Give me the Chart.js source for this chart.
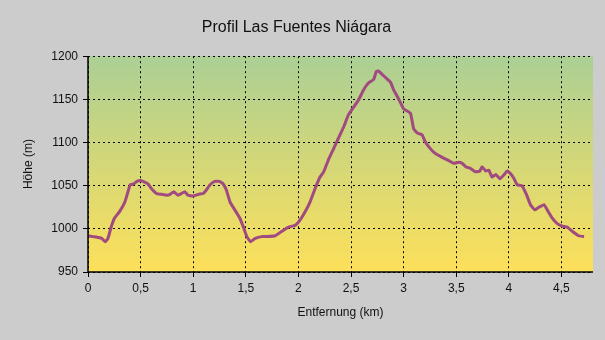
<!DOCTYPE html>
<html lang="de">
<head>
<meta charset="utf-8">
<title>Profil Las Fuentes Niágara</title>
<script src="https://cdn.jsdelivr.net/npm/chart.js@4/dist/chart.umd.min.js"></script>
<style>
    html, body { margin: 0; padding: 0; background: #cccccc; }
    canvas { display: block; }
</style>
</head>
<body>
<canvas id="profileChart" width="605" height="340"></canvas>
<script>
// Daten des Höhenprofils (Entfernung in km, Höhe in m)
const distances = [
    0, 0.05, 0.1, 0.13, 0.165, 0.19, 0.22, 0.25, 0.3, 0.35,
    0.38, 0.4, 0.435, 0.465, 0.5, 0.54, 0.57, 0.6, 0.65, 0.7,
    0.75, 0.78, 0.815, 0.855, 0.89, 0.92, 0.95, 1.0, 1.05, 1.095,
    1.125, 1.16, 1.205, 1.25, 1.285, 1.315, 1.35, 1.395, 1.445, 1.48,
    1.51, 1.545, 1.59, 1.65, 1.7, 1.78, 1.84, 1.905, 1.97, 2.015,
    2.065, 2.11, 2.16, 2.205, 2.24, 2.285, 2.335, 2.38, 2.43, 2.475,
    2.525, 2.57, 2.62, 2.665, 2.715, 2.74, 2.76, 2.795, 2.84, 2.875,
    2.905, 2.95, 3.0, 3.065, 3.095, 3.13, 3.175, 3.205, 3.24, 3.285,
    3.335, 3.38, 3.43, 3.475, 3.525, 3.555, 3.59, 3.635, 3.685, 3.725,
    3.745, 3.78, 3.81, 3.84, 3.875, 3.915, 3.95, 3.985, 4.015, 4.05,
    4.08, 4.125, 4.17, 4.205, 4.245, 4.285, 4.335, 4.365, 4.415, 4.46,
    4.51, 4.555, 4.605, 4.665, 4.715
];
const elevations = [
    992, 991, 990, 989, 985, 989, 1002, 1012, 1020, 1031,
    1043, 1051, 1052, 1055, 1056, 1054, 1052, 1047, 1041, 1040,
    1039, 1040, 1043, 1039, 1041, 1043, 1039, 1038, 1040, 1041,
    1045, 1051, 1055, 1055, 1052, 1045, 1031, 1022, 1012, 1001,
    991, 985, 989, 991, 991, 992, 997, 1002, 1004, 1010,
    1020, 1031, 1047, 1060, 1066, 1080, 1093, 1105, 1118, 1132,
    1141, 1149, 1161, 1169, 1173, 1182, 1183, 1179, 1174, 1170,
    1161, 1151, 1139, 1134, 1116, 1111, 1109, 1101, 1095, 1089,
    1085, 1082, 1079, 1076, 1077, 1076, 1072, 1070, 1066, 1067,
    1072, 1067, 1068, 1060, 1063, 1058, 1062, 1067, 1064, 1058,
    1051, 1050, 1039, 1028, 1022, 1025, 1028, 1022, 1012, 1006,
    1003, 1002, 997, 992, 991
];
const xMin = 0, xMax = 4.8, xStep = 0.5;
const yMin = 950, yMax = 1200, yStep = 50;

const textColor = '#111111';
const fontFamily = '"Liberation Sans", Arial, sans-serif';

// Farbverlauf im Diagrammbereich (grün oben, gelb unten)
const plotBackground = {
    id: 'plotBackground',
    beforeDraw(chart) {
        const { ctx, chartArea: a } = chart;
        const g = ctx.createLinearGradient(0, a.top, 0, a.bottom);
        g.addColorStop(0, '#abcf95');
        g.addColorStop(1, '#fde05a');
        ctx.save();
        ctx.fillStyle = g;
        ctx.fillRect(a.left, a.top, a.right - a.left, a.bottom - a.top);
        ctx.restore();
    }
};

// durchgezogene Achsenlinien links und unten
const solidAxes = {
    id: 'solidAxes',
    afterDraw(chart) {
        const { ctx, chartArea: a } = chart;
        ctx.save();
        ctx.setLineDash([]);
        ctx.strokeStyle = '#000000';
        ctx.lineWidth = 1.5;
        ctx.beginPath();
        ctx.moveTo(a.left, a.top);
        ctx.lineTo(a.left, a.bottom);
        ctx.lineTo(a.right, a.bottom);
        ctx.stroke();
        ctx.restore();
    }
};

const points = distances.map((d, i) => ({ x: d, y: elevations[i] }));

// gemeinsame Achsen-Optionen
const axisBorder = { display: false, dash: [2, 3] };
const axisGrid = {
    color: '#000000',
    tickLength: 5,
    tickColor: '#000000',
    tickBorderDash: []
};

new Chart(document.getElementById('profileChart'), {
    type: 'line',
    data: {
        datasets: [{
            label: 'Höhe',
            data: points,
            borderColor: '#a04a80',
            borderWidth: 3,
            pointRadius: 0,
            tension: 0.1,
            fill: false
        }]
    },
    options: {
        responsive: false,
        animation: false,
        devicePixelRatio: 1,
        layout: { padding: { left: 0, right: 12, top: 0, bottom: 0 } },
        plugins: {
            legend: { display: false },
            tooltip: { enabled: false },
            title: {
                display: true,
                text: 'Profil Las Fuentes Niágara',
                color: textColor,
                font: { family: fontFamily, size: 16, weight: 'normal' },
                padding: { top: 18, bottom: 19 }
            }
        },
        scales: {
            x: {
                type: 'linear',
                min: xMin,
                max: xMax,
                afterFit: axis => { axis.height = 68; },
                border: axisBorder,
                grid: axisGrid,
                ticks: {
                    stepSize: xStep,
                    includeBounds: false,
                    color: textColor,
                    padding: 4,
                    maxRotation: 0,
                    font: { family: fontFamily, size: 12 },
                    callback: v => String(v).replace('.', ',')
                },
                title: {
                    display: true,
                    text: 'Entfernung (km)',
                    color: textColor,
                    font: { family: fontFamily, size: 12 },
                    padding: { top: 0, bottom: 20 }
                }
            },
            y: {
                min: yMin,
                max: yMax,
                afterFit: axis => { axis.width = 88; },
                border: axisBorder,
                grid: axisGrid,
                ticks: {
                    stepSize: yStep,
                    color: textColor,
                    padding: 5,
                    font: { family: fontFamily, size: 12 },
                    callback: v => String(v)
                },
                title: {
                    display: true,
                    text: 'Höhe (m)',
                    color: textColor,
                    font: { family: fontFamily, size: 12 },
                    padding: { top: 21, bottom: 0 }
                }
            }
        }
    },
    plugins: [plotBackground, solidAxes]
});
</script>
</body>
</html>
